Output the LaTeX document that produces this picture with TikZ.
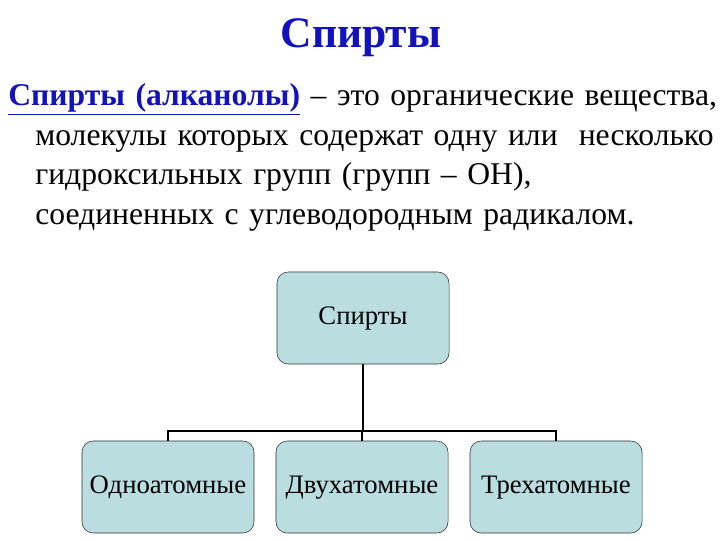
\documentclass[tikz,border=0pt]{standalone}
\usepackage{fontspec}
\setmainfont{Liberation Serif}
\usepackage{tikz}
\usetikzlibrary{positioning, calc}
\definecolor{titleblue}{RGB}{18,18,190}
\definecolor{boxfill}{RGB}{186,221,224}

\begin{document}
\begin{tikzpicture}[
        x=0.025cm, y=-0.025cm,
        box/.style={rectangle, rounded corners=8pt, draw=black!80, fill=boxfill,
                    minimum width=4.3cm, minimum height=2.3cm, align=center,
                    text height=13pt, text depth=4pt,
                    font=\fontsize{19}{22}\selectfont, inner sep=2pt},
        link/.style={draw=black, line width=1.4pt}
    ]
    \useasboundingbox (0,0) rectangle (720,540);

    \node[font=\fontsize{31}{36}\selectfont\bfseries, text=titleblue]
          (title) at (361,38) {Спирты};

    \node[anchor=north west, text width=17.8cm, align=left, inner sep=0pt,
          font=\fontsize{22.5}{28.3}\selectfont]
          (def) at (8,83) {{\bfseries\color{titleblue}\underline{Спирты (алканолы)}} – это органические вещества,\\
          \hspace*{0.675cm}молекулы которых содержат одну или\ \ несколько\\
          \hspace*{0.675cm}гидроксильных групп (групп – ОН),\\
          \hspace*{0.675cm}соединенных с углеводородным радикалом.};

    \node[box] (root) at (363,318) {Спирты};
    \node[box] (mono) at (168,487) {Одноатомные};
    \node[box] (di)   at (362,487) {Двухатомные};
    \node[box] (tri)  at (556,487) {Трехатомные};

    \coordinate (bus) at (362,431);
    \draw[link] (root.south) -- (root.south |- bus);
    \draw[link] (mono.north) |- (bus) -| (tri.north);
    \draw[link] (bus) -- (di.north);
\end{tikzpicture}
\end{document}
